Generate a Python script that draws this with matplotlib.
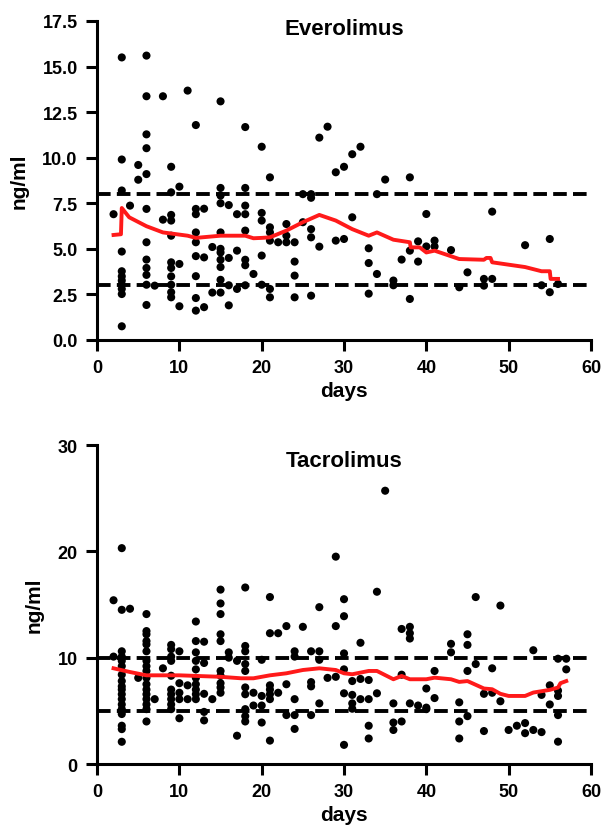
import numpy as np
import matplotlib.pyplot as plt

plt.rcParams['font.family'] = ['Liberation Sans', 'DejaVu Sans']
plt.rcParams['font.weight'] = 'bold'

# Everolimus trough levels (day, ng/ml)
evero_days = [2,
              3, 3, 3, 3, 3, 3, 3, 3, 3, 3, 3,
              4, 5, 5,
              6, 6, 6, 6, 6, 6, 6, 6, 6, 6, 6, 6,
              7, 8, 8,
              9, 9, 9, 9, 9, 9, 9, 9, 9, 9, 9,
              10, 10, 10, 11,
              12, 12, 12, 12, 12, 12, 12, 12, 12,
              13, 13, 13, 14, 14,
              15, 15, 15, 15, 15, 15, 15, 15, 15, 15, 15,
              16, 16, 16, 16, 17, 17, 17,
              18, 18, 18, 18, 18, 18, 18, 18,
              19, 20, 20, 20, 20, 20,
              21, 21, 21, 21, 21, 21, 22, 23, 23, 23,
              24, 24, 24, 24, 25, 25, 26, 26, 26, 26, 26,
              27, 27, 28, 29, 29, 30, 30, 31, 31, 32,
              33, 33, 33, 34, 34, 35, 36, 36, 37, 38, 38, 38,
              39, 39, 40, 40, 41, 41, 43, 44, 45, 47, 47, 48, 48,
              52, 54, 55, 55, 56]
evero_conc = [6.9,
              15.5, 9.9, 8.2, 4.85, 3.77, 3.49, 3.26, 3.03, 2.8, 2.52, 0.75,
              7.37, 9.6, 8.79,
              15.6, 13.37, 11.28, 10.52, 9.1, 7.19, 5.36, 4.41, 3.95, 3.57, 3.03, 1.92,
              2.98, 13.37, 6.6,
              9.5, 8.1, 6.86, 6.55, 5.72, 4.26, 3.95, 3.49, 3.03, 2.62, 2.34,
              8.41, 4.17, 1.85, 13.68,
              11.79, 7.19, 6.9, 5.9, 5.36, 4.6, 3.5, 2.3, 1.61,
              7.2, 4.53, 1.8, 2.6, 5.1,
              13.09, 8.34, 7.92, 7.5, 5.9, 5.0, 4.8, 4.4, 4.0, 3.3, 2.6,
              7.4, 4.5, 3.0, 1.9, 6.9, 4.9, 2.8,
              11.68, 8.34, 7.37, 6.9, 6.0, 4.4, 4.1, 3.0,
              3.62, 10.6, 6.97, 6.55, 4.63, 3.03,
              8.92, 6.18, 5.9, 5.45, 2.8, 2.34, 5.36, 6.36, 5.72, 5.36,
              5.36, 4.3, 3.53, 2.34, 8.0, 6.46, 8.0, 7.8, 6.08, 5.63, 2.43,
              11.1, 5.12, 11.7, 9.2, 5.45, 9.5, 5.54, 10.19, 6.73, 10.6,
              5.03, 4.22, 2.54, 8.0, 3.62, 8.8, 3.26, 3.0, 4.41, 8.92, 4.9, 2.25,
              5.41, 4.3, 6.91, 5.13, 5.45, 5.13, 4.93, 2.89, 3.71, 3.35, 2.98, 7.04, 3.35,
              5.2, 3.0, 5.54, 2.62, 3.07]

# Everolimus running mean (red curve)
evero_mean_days = [2, 2.9, 3.0, 3.9, 6, 8, 11, 12, 15, 18, 19, 20, 21, 23, 25, 27,
                   29, 31, 33, 34, 36, 38, 38.1, 39.2, 40, 41, 44, 47, 47.3, 47.8,
                   48, 52, 54, 55, 55.1, 56]
evero_mean = [5.76, 5.8, 7.24, 6.73, 6.24, 5.9, 5.72, 5.6, 5.72, 5.72, 5.58, 5.6,
              5.63, 6.0, 6.46, 6.86, 6.55, 6.08, 5.72, 5.9, 5.5, 5.36, 5.08, 5.08,
              4.8, 4.9, 4.44, 4.4, 4.5, 4.5, 4.26, 4.0, 3.77, 3.77, 3.35, 3.35]

# Tacrolimus trough levels (day, ng/ml)
tacro_days = [2, 2,
              3, 3, 3, 3, 3, 3, 3, 3, 3, 3, 3, 3, 3, 3, 3, 3, 3, 3,
              4, 5,
              6, 6, 6, 6, 6, 6, 6, 6, 6, 6, 6, 6, 6, 6, 6, 6, 6,
              7, 8,
              9, 9, 9, 9, 9, 9, 9, 9, 9, 9,
              10, 10, 10, 10, 10, 11, 11,
              12, 12, 12, 12, 12, 12, 12, 12, 12, 12,
              13, 13, 13, 13, 13, 14,
              15, 15, 15, 15, 15, 15, 15, 15, 15, 15,
              16, 16, 17, 17,
              18, 18, 18, 18, 18, 18, 18, 18, 18, 18,
              19, 19, 20, 20, 20, 20,
              21, 21, 21, 21, 21, 21, 21, 22, 22, 23, 23, 23,
              24, 24, 24, 24, 24, 25, 26, 26, 26, 26,
              27, 27, 27, 27, 28, 29, 29, 29,
              30, 30, 30, 30, 30, 30, 31, 31, 31, 31,
              32, 32, 32, 33, 33, 33, 33, 34, 34, 35,
              36, 36, 36, 37, 37, 37, 38, 38, 38, 38, 39,
              40, 40, 40, 41, 41, 43, 43, 44, 44, 44,
              45, 45, 45, 45, 46, 46, 47, 47, 48, 48, 49, 49,
              50, 51, 52, 52, 53, 53, 54, 54, 55, 55,
              56, 56, 56, 56, 56, 57, 57]
tacro_conc = [15.4, 10.1,
              20.3, 14.5, 10.6, 10.1, 9.7, 9.2, 8.4, 7.8, 7.3, 7.0, 6.56, 6.1, 5.6, 5.16,
              4.7, 3.6, 3.28, 2.09,
              14.6, 8.1,
              14.1, 12.5, 12.2, 11.56, 11.25, 10.6, 9.7, 9.2, 8.75, 8.1, 7.5, 7.0, 6.56,
              6.1, 5.6, 5.16, 4.0,
              6.1, 9.0,
              11.2, 10.8, 10.1, 9.7, 8.3, 7.0, 6.56, 6.1, 5.6, 5.16,
              10.6, 7.6, 6.7, 6.1, 4.3, 7.4, 6.1,
              13.4, 11.56, 10.5, 9.7, 8.9, 8.1, 7.5, 7.0, 6.56, 6.1,
              11.5, 9.5, 6.6, 4.9, 4.1, 6.1,
              16.4, 15.1, 14.1, 12.2, 11.56, 8.75, 8.3, 7.6, 7.2, 6.7,
              10.5, 10.0, 9.7, 2.66,
              16.6, 11.1, 10.6, 9.4, 8.75, 7.2, 6.56, 5.16, 4.5, 4.0,
              6.7, 5.5, 9.8, 6.4, 5.5, 3.9,
              15.7, 12.3, 7.4, 7.0, 6.56, 6.1, 2.2, 12.3, 6.7, 12.97, 7.5, 4.6,
              10.6, 10.1, 6.1, 4.6, 3.3, 12.9, 10.6, 7.7, 7.3, 4.6,
              14.75, 10.6, 9.8, 5.7, 8.1, 19.5, 12.97, 8.2,
              15.5, 13.9, 10.4, 8.9, 6.65, 1.8, 7.8, 6.5, 5.7, 5.2,
              11.4, 8.0, 6.1, 7.9, 6.1, 3.6, 2.4, 16.2, 6.65, 25.7,
              5.7, 3.9, 3.2, 12.7, 8.4, 4.0, 12.9, 12.3, 11.8, 5.7, 5.5,
              7.1, 5.3, 5.16, 8.75, 6.2, 11.3, 10.5, 5.8, 4.0, 2.4,
              12.2, 11.2, 8.75, 4.5, 15.7, 9.4, 6.6, 3.1, 9.0, 6.7, 14.9, 5.9,
              3.2, 3.6, 3.85, 2.9, 10.7, 3.2, 6.5, 3.0, 7.4, 5.6,
              9.9, 6.9, 6.4, 4.6, 2.1, 9.9, 8.9]

# Tacrolimus running mean (red curve)
tacro_mean_days = [2, 4, 6, 10, 15, 17.5, 19, 21, 23, 25, 27, 29, 30, 31, 33, 34,
                   36, 37, 38, 40, 41, 43, 44, 45, 47, 48, 49, 50, 52, 53, 55, 56,
                   56.3, 57]
tacro_mean = [9.0, 8.65, 8.34, 8.34, 8.2, 8.06, 8.06, 8.34, 8.53, 8.84, 9.0, 8.84,
              8.53, 8.44, 8.75, 8.75, 7.97, 8.28, 7.97, 7.97, 8.12, 7.97, 7.72, 7.8,
              7.1, 7.03, 6.6, 6.4, 6.4, 6.72, 6.97, 7.19, 7.6, 7.8]

panels = [
    ('Everolimus', evero_days, evero_conc, evero_mean_days, evero_mean,
     17.5, np.arange(0, 17.6, 2.5), '%.1f', [3, 8], 0.975),
    ('Tacrolimus', tacro_days, tacro_conc, tacro_mean_days, tacro_mean,
     30, [0, 10, 20, 30], '%d', [5, 10], 0.95),
]

fig = plt.figure(figsize=(6.03, 8.29), dpi=100)
positions = [[0.161, 0.5887, 0.819, 0.3848], [0.161, 0.0772, 0.819, 0.3848]]

for pos, (title, days, conc, mdays, mconc, ymax, yticks, fmt, limits, ty) in zip(positions, panels):
    ax = fig.add_axes(pos)
    for lim in limits:
        ax.axhline(lim, color='black', lw=2.8, ls=(0, (3.5, 1.6)), zorder=1)
    ax.scatter(days, conc, s=34, color='black', edgecolors='none', zorder=2)
    ax.plot(mdays, mconc, color='#ff1a1a', lw=2.8, zorder=3)

    ax.set_xlim(0, 60)
    ax.set_ylim(0, ymax)
    ax.set_xticks(range(0, 61, 10))
    ax.set_yticks(yticks)
    ax.set_yticklabels([fmt % t for t in yticks])
    ax.spines['top'].set_visible(False)
    ax.spines['right'].set_visible(False)
    for side in ['left', 'bottom']:
        ax.spines[side].set_linewidth(2.2)
    ax.tick_params(width=2.2, length=8, labelsize=13, pad=6)
    for lbl in ax.get_xticklabels() + ax.get_yticklabels():
        lbl.set_fontweight('bold')

    ax.text(0.5, ty, title, transform=ax.transAxes, ha='center', va='center',
            fontsize=16, fontweight='bold')
    ax.set_xlabel('days', fontsize=15, fontweight='bold', labelpad=3)
    ax.set_ylabel('ng/ml', fontsize=15, fontweight='bold', labelpad=10)

plt.savefig('out.png', dpi=100)
